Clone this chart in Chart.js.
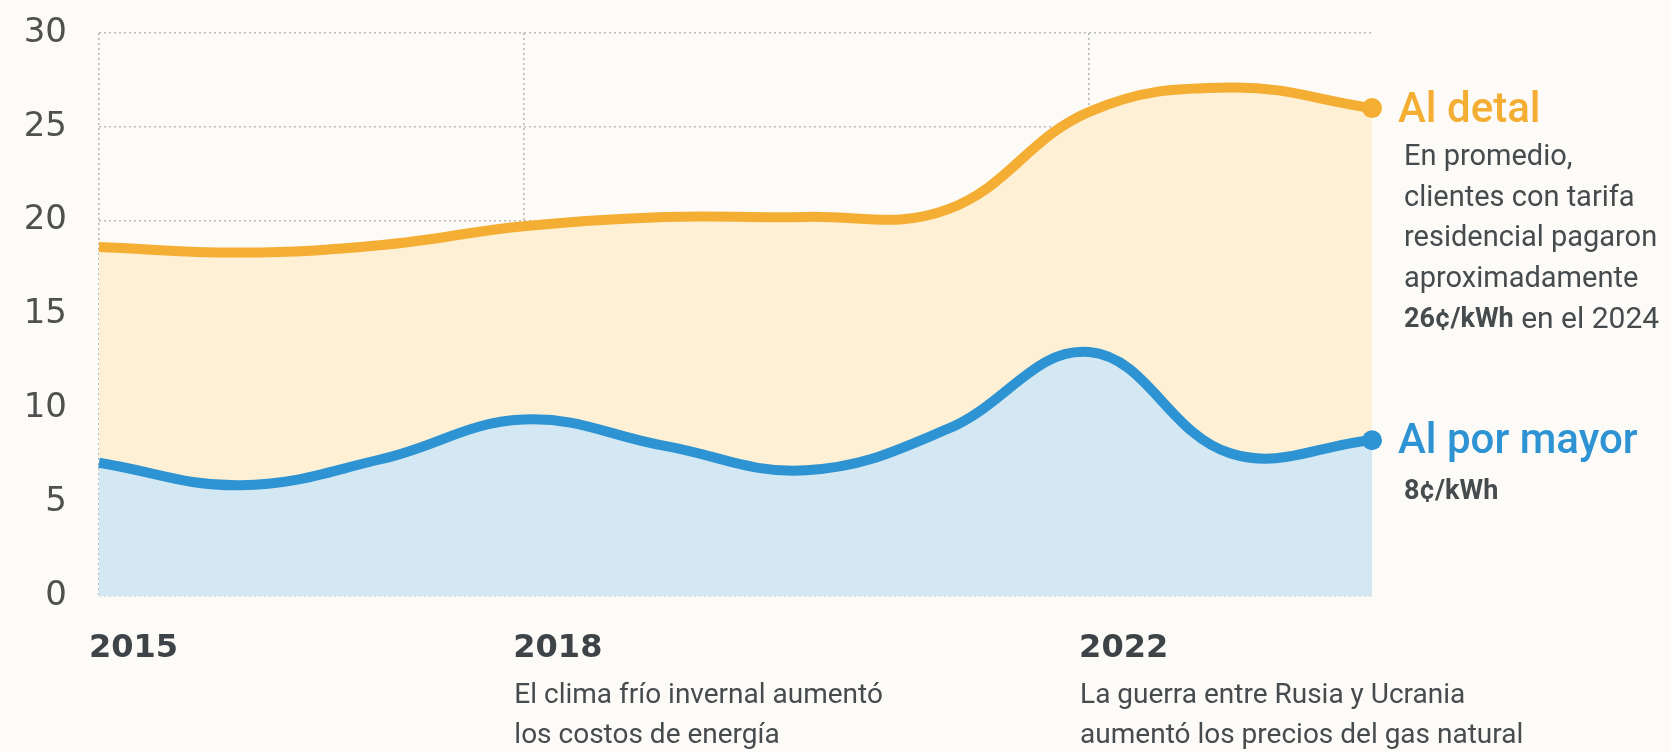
<!DOCTYPE html>
<html lang="es">
<head>
<meta charset="utf-8">
<title>Precios de electricidad</title>
<script src="https://cdn.jsdelivr.net/npm/chart.js@4.4.1/dist/chart.umd.min.js"></script>
<style>
    html, body { margin: 0; padding: 0; background: #fdfbf8; }
    #chart-wrap { position: relative; width: 1671px; height: 752px; }
</style>
</head>
<body>
<div id="chart-wrap"><canvas id="price-chart"></canvas></div>
<script>
// ¢/kWh
const years = [2015, 2016, 2017, 2018, 2019, 2020, 2021, 2022, 2023, 2024];
const wholesaleCents = [7.1, 5.9, 7.3, 9.4, 8.0, 6.7, 8.9, 13.0, 7.6, 8.3];
const retailCents = [18.6, 18.3, 18.7, 19.7, 20.2, 20.2, 20.6, 25.8, 27.1, 26.0];
const yTicks = [0, 5, 10, 15, 20, 25, 30];
const markedYears = [2015, 2018, 2022];
const yearNotes = {
    2018: ['El clima frío invernal aumentó', 'los costos de energía'],
    2022: ['La guerra entre Rusia y Ucrania', 'aumentó los precios del gas natural']
};
const retailNote = ['En promedio,', 'clientes con tarifa', 'residencial pagaron', 'aproximadamente'];

const retailColor = '#f5ae34';
const wholesaleColor = '#2d93d3';
const textColor = '#464b4e';
const condensed = "'Roboto', sans-serif";
const wideSans = "'DejaVu Sans', sans-serif";

document.addEventListener('DOMContentLoaded', function () {
    const ctx = document.getElementById('price-chart');
    const lastIdx = years.length - 1;

    // notes under the marked years
    const yearNotesPlugin = {
        id: 'yearNotes',
        afterDraw(chart) {
            const c = chart.ctx;
            const x = chart.scales.x;
            c.save();
            c.fillStyle = textColor;
            c.font = '400 28px ' + condensed;
            c.textAlign = 'left';
            c.textBaseline = 'middle';
            Object.keys(yearNotes).forEach(year => {
                const px = x.getPixelForValue(Number(year)) - 9;
                yearNotes[year].forEach((line, i) => {
                    c.fillText(line, px, 696 + i * 40);
                });
            });
            c.restore();
        }
    };

    // labels at the end of each line
    const endLabels = {
        id: 'endLabels',
        afterDatasetsDraw(chart) {
            const c = chart.ctx;
            const wPt = chart.getDatasetMeta(0).data[lastIdx];
            const rPt = chart.getDatasetMeta(1).data[lastIdx];
            c.save();
            c.textAlign = 'left';
            c.textBaseline = 'middle';

            c.font = '500 42px ' + condensed;
            c.fillStyle = retailColor;
            c.fillText('Al detal', rPt.x + 26, rPt.y + 3);
            c.fillStyle = wholesaleColor;
            c.fillText('Al por mayor', wPt.x + 26, wPt.y + 2);

            const tx = rPt.x + 32;
            c.fillStyle = textColor;
            c.font = '400 29px ' + condensed;
            retailNote.forEach((line, i) => {
                c.fillText(line, tx, rPt.y + 50 + i * 40.5);
            });
            const lastY = rPt.y + 50 + retailNote.length * 40.5;
            c.font = '700 27px ' + condensed;
            c.fillText('26¢/kWh', tx, lastY);
            const boldW = c.measureText('26¢/kWh').width;
            c.font = '400 30px ' + condensed;
            c.fillText(' en el 2024', tx + boldW, lastY);

            c.font = '700 27px ' + condensed;
            c.fillText('8¢/kWh', tx, wPt.y + 52);
            c.restore();
        }
    };

    const endDot = (color) => ({
        pointRadius: c => (c.dataIndex === lastIdx ? 10 : 0),
        pointHoverRadius: c => (c.dataIndex === lastIdx ? 10 : 0),
        pointBackgroundColor: color,
        pointBorderWidth: 0
    });

    new Chart(ctx, {
        type: 'line',
        data: {
            datasets: [
                Object.assign({
                    label: 'Al por mayor',
                    data: years.map((y, i) => ({ x: y, y: wholesaleCents[i] })),
                    borderColor: wholesaleColor,
                    backgroundColor: '#d3e8f2',
                    borderWidth: 10,
                    tension: 0.4,
                    fill: 'origin',
                    clip: false
                }, endDot(wholesaleColor)),
                Object.assign({
                    label: 'Al detal',
                    data: years.map((y, i) => ({ x: y, y: retailCents[i] })),
                    borderColor: retailColor,
                    backgroundColor: '#fdf0d4',
                    borderWidth: 10,
                    tension: 0.4,
                    fill: 'origin',
                    clip: false
                }, endDot(retailColor))
            ]
        },
        options: {
            responsive: true,
            maintainAspectRatio: false,
            animation: false,
            layout: {
                padding: { left: 0, right: 299, top: 33, bottom: 0 }
            },
            plugins: {
                legend: { display: false },
                tooltip: { enabled: false }
            },
            scales: {
                x: {
                    type: 'linear',
                    min: years[0],
                    max: years[lastIdx],
                    afterBuildTicks: scale => {
                        scale.ticks = markedYears.map(v => ({ value: v }));
                    },
                    afterFit: scale => { scale.height = 156; },
                    grid: {
                        color: '#bababa',
                        lineWidth: 1.6,
                        drawTicks: false
                    },
                    border: { display: false, dash: [2, 3] },
                    ticks: {
                        align: 'start',
                        labelOffset: -10,
                        padding: 33,
                        color: '#3d4346',
                        font: { family: wideSans, size: 32, weight: '700' },
                        callback: value => String(value)
                    }
                },
                y: {
                    min: 0,
                    max: 30,
                    afterBuildTicks: scale => {
                        scale.ticks = yTicks.map(v => ({ value: v }));
                    },
                    afterFit: scale => { scale.width = 99; },
                    grid: {
                        color: '#bababa',
                        lineWidth: 1.6,
                        drawTicks: true,
                        tickLength: 32,
                        tickColor: 'transparent'
                    },
                    border: { display: false, dash: [2, 3] },
                    ticks: {
                        padding: 0,
                        color: '#505050',
                        font: { family: wideSans, size: 34 }
                    }
                }
            }
        },
        plugins: [yearNotesPlugin, endLabels]
    });
});
</script>
</body>
</html>
